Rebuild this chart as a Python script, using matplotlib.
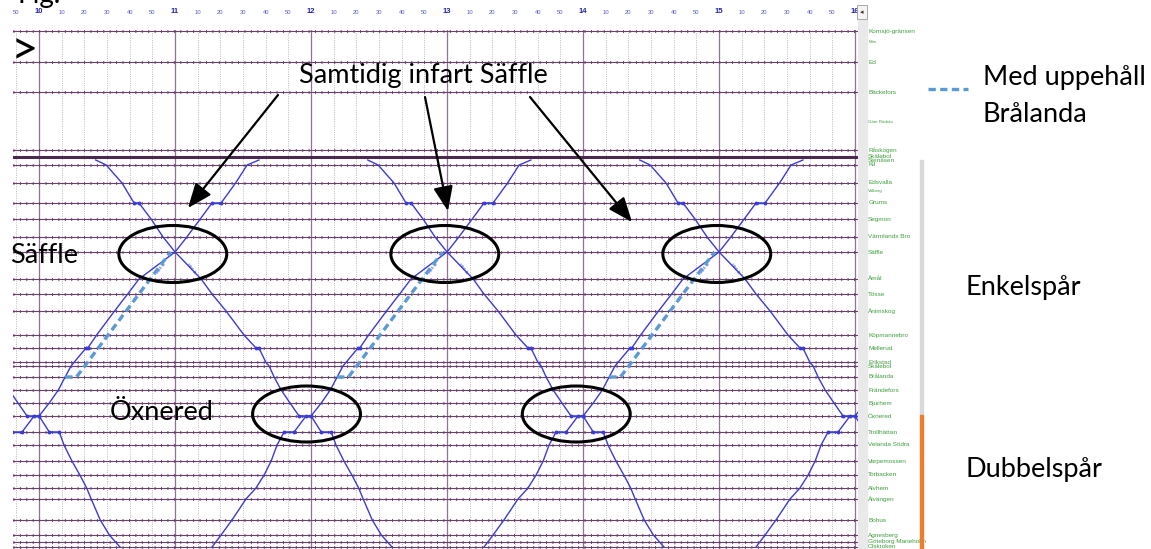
import matplotlib.pyplot as plt
from matplotlib.patches import Ellipse, Rectangle
from matplotlib.lines import Line2D
import matplotlib.transforms as mtransforms

W, H = 1151, 549

# stations along the line (top = Kornsjö, bottom = Göteborg)
station_names = ["Kornsjö-gränsen", "Mon", "Ed", "Bäckefors", "Gäre Rödsta", "Råskogen",
                 "Skälebol", "Stenåsen", "Kil", "Edsvalla", "Välberg", "Grums", "Segmon",
                 "Värmlands Bro", "Säffle", "Åmål", "Tösse", "Ånimskog", "Köpmannebro",
                 "Mellerud", "Erikstad", "Skälebol", "Brålanda", "Frändefors", "Bjurhem",
                 "Öxnered", "Trollhättan", "Velanda Södra", "Varpemossen", "Torbacken",
                 "Alvhem", "Älvängen", "Bohus", "Agnesberg", "Göteborg Marieholm", "Olskroken"]
station_pos = [31, 42, 62, 92, 122, 150, 157, 161, 165, 183, 191, 203, 219, 237, 252, 279,
               294, 311, 335, 348, 362, 366, 377, 390, 403, 416, 432, 445, 461, 475, 488, 499,
               520, 535, 542, 547]
# 'line' = normal station line, 'thick' = border line, 'none' = label only, 'small' = tiny label only
station_kind = ["line", "small", "line", "line", "small", "line", "thick", "none", "line",
                "line", "small", "line", "line", "line", "line", "line", "line", "line", "line",
                "line", "line", "line", "line", "line", "line", "line", "line", "line", "line",
                "line", "line", "line", "line", "line", "line", "line"]

# southbound train, minutes relative to the meeting in Säffle
south_pos = [160, 165, 183, 203, 203, 219, 237, 252, 279, 294, 311, 335, 348, 348, 362, 366,
             377, 390, 403, 416, 416, 432, 432, 445, 461, 475, 488, 499, 520, 535, 547]
south_min = [-35, -30.4, -23.4, -18.1, -15.9, -10.6, -5.3, 0, 11.5, 16.3, 22.5, 30.4, 35.7,
             37, 40, 41.5, 43.7, 46.8, 50.7, 54.7, 60, 64.5, 68.9, 71, 74.5, 78, 81, 83, 87,
             91, 95.7]

# northbound train, minutes relative to the meeting in Säffle
north_pos = [547, 535, 520, 499, 488, 475, 461, 445, 432, 432, 416, 416, 403, 390, 377, 366,
             348, 348, 335, 311, 294, 279, 252, 237, 219, 203, 203, 183, 165, 160]
north_min = [-103.7, -99.7, -94.9, -88.7, -84.3, -80.7, -77.6, -75, -71.9, -67.5, -62.2, -60,
             -55.5, -51.5, -48.5, -45.9, -39.3, -38.5, -34.6, -26.7, -20.9, -15.9, 0, 5.2,
             11.1, 16.3, 20.3, 26.7, 31.8, 37]

# alternative with stop in Brålanda (dashed)
bral_pos = [377, 377, 252]
bral_min = [-48.5, -43.5, -2]

# meeting times in Säffle and Öxnered, minutes after 10:00
meet_saffle = [-60, 60, 180, 300, 420]
meet_bral = [60, 180, 300]
circled_saffle = [60, 180, 300]
circled_oxnered = [118, 237]

t_start, t_end = -11.5, 361.3
hour_ticks = list(range(0, 361, 60))
hour_labels = ["10", "11", "12", "13", "14", "15", "16"]
minute_ticks = [t for t in range(-10, 361, 10) if t % 60 != 0]
minute_labels = [str(t % 60) for t in minute_ticks]

purple = "#6a3f6e"
blue = "#3b3bd6"

fig = plt.figure(figsize=(W / 100, H / 100), dpi=100)
ax = fig.add_axes([13 / W, 0, 845 / W, 519 / H])
ax.set_xlim(t_start, t_end)
ax.set_ylim(549, 30)
for s in ax.spines.values():
    s.set_visible(False)

# time grid
for t in minute_ticks:
    ax.axvline(t, color="#b4b4b4", lw=0.6, ls=(0, (1.2, 1.5)), zorder=1)
for t in hour_ticks:
    ax.axvline(t, color="#8f7391", lw=0.9, zorder=1)

# station lines
for p, k in zip(station_pos, station_kind):
    if k == "line":
        ax.axhline(p, color=purple, lw=0.8, zorder=2)
        ax.axhline(p, color=purple, lw=2.2, ls=(0, (0.3, 1.8)), zorder=2)
    elif k == "thick":
        ax.axhline(p, color="#4a2a4e", lw=2.2, zorder=2)

# station names on the right
trans = mtransforms.blended_transform_factory(ax.transAxes, ax.transData)
for name, p, k in zip(station_names, station_pos, station_kind):
    fs = 3.2 if k == "small" else 4.6
    ax.text(1.012, p, name, transform=trans, fontsize=fs, color="#3f9f3f",
            va="center", ha="left", family="Liberation Sans", clip_on=False)

# trains
for tc in meet_saffle:
    ax.plot([tc + m for m in south_min], south_pos, color=blue, lw=1.0, zorder=4)
    ax.plot([tc + m for m in north_min], north_pos, color=blue, lw=1.0, zorder=4)
    for mins, poss in ((south_min, south_pos), (north_min, north_pos)):
        for i in range(len(poss) - 1):
            if poss[i] == poss[i + 1]:
                ax.plot([tc + mins[i], tc + mins[i + 1]], [poss[i], poss[i + 1]],
                        color=blue, lw=1.0, marker="o", ms=1.8, zorder=4)

# small train numbers along the lines (only for meetings inside the view)
for tc in circled_saffle:
    ax.text(tc - 6, 268, "380 A", fontsize=3.2, color=blue, rotation=52, ha="center",
            va="center")
    ax.text(tc + 7, 268, "380 A", fontsize=3.2, color=blue, rotation=-52, ha="center",
            va="center")
for tc in meet_bral:
    ax.plot([tc + m for m in bral_min], bral_pos, color="#5b9bd5", lw=2.4,
            ls=(0, (2.2, 1.3)), zorder=5)

# time axis on top
ax.set_xticks(hour_ticks + minute_ticks)
ax.set_xticklabels(hour_labels + minute_labels)
ax.tick_params(axis="x", top=True, labeltop=True, bottom=False, labelbottom=False,
               length=0, pad=11)
for i, lab in enumerate(ax.get_xticklabels()):
    if i < len(hour_ticks):
        lab.set_fontsize(5.5)
        lab.set_fontweight("bold")
        lab.set_color("#2424a8")
    else:
        lab.set_fontsize(4.2)
        lab.set_color("#5a5ac8")
    lab.set_family("Liberation Sans")
ax.set_yticks([])

# annotations
for tc in circled_saffle:
    ax.add_patch(Ellipse((tc - 1, 254), 47.6, 57, fill=False, lw=2.2, color="black", zorder=6))
for tc in circled_oxnered:
    ax.add_patch(Ellipse((tc, 414), 47.6, 56, fill=False, lw=2.2, color="black", zorder=6))

arrow_tips = [(65.7, 208), (180.4, 211), (261.6, 222)]
arrow_tails = [(278, 95), (425, 97), (530, 97)]
for (tx, ty), (px, py) in zip(arrow_tips, arrow_tails):
    ax.annotate("", xy=(tx, ty), xytext=(px / W, 1 - py / H), textcoords="figure fraction",
                arrowprops=dict(arrowstyle="-|>,head_length=0.75,head_width=0.3", lw=1.6,
                                color="black", mutation_scale=20, shrinkA=0, shrinkB=0),
                annotation_clip=False, zorder=7)

font = "Lato"
big = 19.5
fig.text(423 / W, 1 - 75 / H, "Samtidig infart Säffle", fontsize=big, family=font,
         ha="center", va="center")
fig.text(10 / W, 1 - 255 / H, "Säffle", fontsize=big, family=font, ha="left", va="center")
fig.text(110 / W, 1 - 413 / H, "Öxnered", fontsize=big, family=font, ha="left", va="center")
fig.text(11 / W, 1 - 51 / H, ">", fontsize=34, family=font, ha="left", va="center")
# the figure caption is cut by the top edge in the reference screenshot
fig.text(18 / W, 1 - 3 / H, "Fig.", fontsize=20, family=font, ha="left", va="baseline")

fig.text(983 / W, 1 - 78 / H, "Med uppehåll", fontsize=big, family=font, ha="left", va="center")
fig.text(983 / W, 1 - 115 / H, "Brålanda", fontsize=big, family=font, ha="left", va="center")
fig.add_artist(Line2D([928 / W, 968 / W], [1 - 89 / H, 1 - 89 / H], color="#5b9bd5", lw=2.4,
                      ls=(0, (2.2, 1.3))))
fig.text(965 / W, 1 - 287 / H, "Enkelspår", fontsize=big, family=font, ha="left", va="center")
fig.text(965 / W, 1 - 470 / H, "Dubbelspår", fontsize=big, family=font, ha="left", va="center")

# scrollbar strip and track bars
fig.add_artist(Rectangle((858 / W, 0), 9 / W, 1 - 20 / H, color="#e9e9e9", zorder=0))
fig.add_artist(Rectangle((857 / W, 1 - 19 / H), 10 / W, 14 / H, facecolor="#f4f4f4",
                         edgecolor="#9a9a9a", lw=0.6))
fig.text(862 / W, 1 - 12 / H, "◂", fontsize=5, ha="center", va="center", color="#333333")
fig.add_artist(Rectangle((920 / W, 1 - 415 / H), 3 / W, 255 / H, color="#d9d9d9"))
fig.add_artist(Rectangle((920 / W, 0), 3 / W, 134 / H, color="#ed7d31"))

fig.savefig("out.png", dpi=100)
